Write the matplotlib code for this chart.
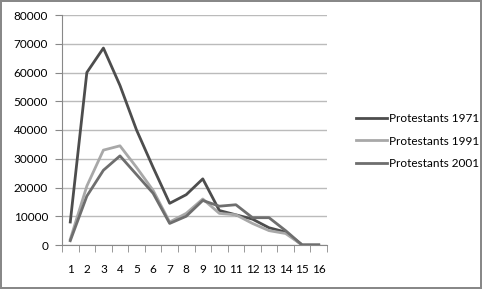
import numpy as np
from matplotlib import pyplot as plt

plt.rcParams['font.family'] = ['Lato', 'DejaVu Sans']

# Category labels and series values
categories = [str(i) for i in range(1, 17)]
prot_1971 = [8000, 60000, 68500, 55500, 40000, 27000, 14500, 17500,
             23000, 12000, 10500, 9000, 6000, 4500, 0, 0]
prot_1991 = [2000, 20500, 33000, 34500, 27000, 19000, 8000, 11000,
             16000, 11000, 10500, 7500, 5000, 4000, 0, 0]
prot_2001 = [1500, 17000, 26000, 31000, 24500, 18000, 7500, 10000,
             15500, 13500, 14000, 9500, 9500, 5000, 0, 0]

fig = plt.figure(figsize=(4.82, 2.89), dpi=100)
fig.patch.set_edgecolor('#888888')
fig.patch.set_linewidth(1.5)
ax = fig.add_axes([62 / 482, 44 / 289, 265 / 482, 230 / 289])

x = np.arange(1, len(categories) + 1)
ax.plot(x, prot_1971, color='#4d4d4d', lw=2.0, label='Protestants 1971')
ax.plot(x, prot_1991, color='#a8a8a8', lw=2.0, label='Protestants 1991')
ax.plot(x, prot_2001, color='#6e6e6e', lw=2.0, label='Protestants 2001')

ax.set_xlim(0.5, 16.5)
ax.set_ylim(0, 80000)
ax.set_yticks(np.arange(0, 80001, 10000))
ax.set_xticks(x)
ax.set_xticklabels(categories)
ax.set_xticks(np.arange(0.5, 16.6, 1), minor=True)
ax.tick_params(axis='x', which='major', length=0, pad=14, labelsize=8.5)
ax.tick_params(axis='x', which='minor', length=5, color='#888888')
ax.tick_params(axis='y', length=5, color='#888888', labelsize=8.5, pad=5)
ax.grid(axis='y', color='#bbbbbb', lw=1)
ax.set_axisbelow(True)
for s in ['top', 'right']:
    ax.spines[s].set_visible(False)
ax.spines['left'].set_color('#888888')
ax.spines['bottom'].set_color('#888888')

ax.legend(loc='center left', bbox_to_anchor=(1.07, 0.452), frameon=False,
          fontsize=8.5, handlelength=2.6, handletextpad=0.2, labelspacing=0.95)

fig.savefig('out.png', dpi=100, edgecolor=fig.get_edgecolor())
